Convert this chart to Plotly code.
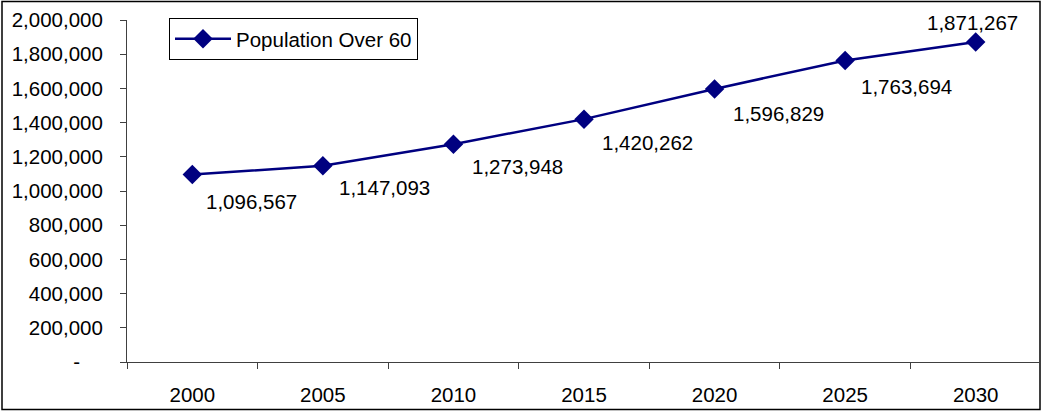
import plotly.graph_objects as go

years = ["2000", "2005", "2010", "2015", "2020", "2025", "2030"]
population = [1096567, 1147093, 1273948, 1420262, 1596829, 1763694, 1871267]
y_ticks = [0, 200000, 400000, 600000, 800000, 1000000, 1200000, 1400000, 1600000, 1800000, 2000000]
y_ticktext = ["-" + "\u00a0" * 4] + [f"{v:,}" for v in y_ticks[1:]]
# label offsets (pixels) relative to each point
label_dx = [59, 62, 64, 63, 64, 61, -3]
label_dy = [-27, -22, -22, -23, -25, -26, 20]

W, H = 1041, 412
ml, mr, mt, mb = 127, 0, 20, 50
pw, ph = W - ml - mr, H - mt - mb
bottom_px = H - mb

font = dict(family="Liberation Sans, Arial, sans-serif", size=20.5, color="black")
navy = "#000080"

fig = go.Figure()
fig.add_trace(go.Scatter(
    x=years, y=population, mode="lines+markers", name="Population Over 60",
    line=dict(color=navy, width=2.5),
    marker=dict(symbol="diamond", size=15, color=navy),
))

annotations = []
for i, v in enumerate(population):
    annotations.append(dict(x=i, y=v, xref="x", yref="y", text=f"{v:,}",
                            showarrow=False, xshift=label_dx[i], yshift=label_dy[i],
                            font=font))

fig.update_layout(
    width=W, height=H,
    margin=dict(l=ml, r=mr, t=mt, b=mb, autoexpand=False),
    paper_bgcolor="white", plot_bgcolor="white",
    font=font,
    showlegend=True,
    annotations=annotations,
    shapes=[dict(type="rect", xref="paper", yref="paper",
                 x0=(2 - ml) / pw, x1=(1040 - ml) / pw,
                 y0=(bottom_px - 409.5) / ph, y1=(bottom_px - 1.5) / ph,
                 line=dict(color="black", width=1.5), layer="below")],
    legend=dict(x=(169 - ml) / pw, y=(bottom_px - 18) / ph, xanchor="left", yanchor="top",
                bordercolor="black", borderwidth=1, bgcolor="white",
                font=font, itemwidth=56),
    xaxis=dict(type="category", range=[-0.5, 6.5], showline=True, linecolor="#404040",
               linewidth=1, ticks="outside", tickson="boundaries", ticklen=6,
               tickcolor="#404040", showgrid=False, zeroline=False, fixedrange=True,
               ticklabelstandoff=14),
    yaxis=dict(range=[0, 2000000], tickvals=y_ticks, ticktext=y_ticktext,
               showline=True, linecolor="#404040", linewidth=1, ticks="outside",
               ticklen=6, tickcolor="#404040", showgrid=False, zeroline=False,
               ticklabelstandoff=13, fixedrange=True),
)

fig.write_html("out.html", config={"displayModeBar": False},
               post_script="document.body.style.margin='0';")
